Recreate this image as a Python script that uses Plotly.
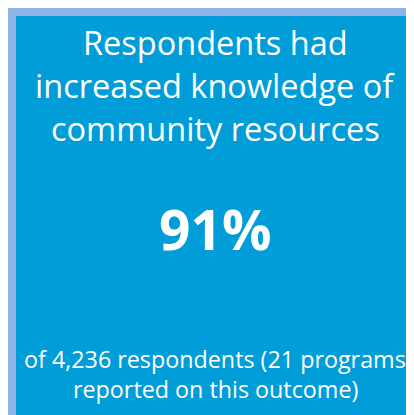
import plotly.graph_objects as go

title_lines = ["Respondents had", "increased knowledge of", "community resources"]
kpi_value = "91%"
footer_lines = ["of 4,236 respondents (21 programs", "reported on this outcome)"]

W, H = 414, 415
fig = go.Figure()
fig.update_layout(
    width=W, height=H,
    margin=dict(l=0, r=0, t=0, b=0),
    paper_bgcolor="#8EB4E3",
    plot_bgcolor="rgba(0,0,0,0)",
    xaxis=dict(visible=False, range=[0, W], fixedrange=True),
    yaxis=dict(visible=False, range=[H, 0], fixedrange=True),
    showlegend=False,
)
fig.add_shape(type="rect", xref="x", yref="y", x0=8, x1=W, y0=8, y1=H,
              fillcolor="#009DD9", line=dict(width=0), layer="below")

font = "Open Sans, sans-serif"
cx = 207
for i, t in enumerate(title_lines):
    fig.add_annotation(x=cx, y=34 + 43 * i, xref="x", yref="y", text=t, showarrow=False,
                       font=dict(family=font, size=32.5, color="white"), xanchor="center", yanchor="middle")
fig.add_annotation(x=cx, y=220, xref="x", yref="y", text="<b>" + kpi_value + "</b>", showarrow=False,
                   font=dict(family=font, size=55, color="white"), xanchor="center", yanchor="middle")
for i, t in enumerate(footer_lines):
    fig.add_annotation(x=cx, y=351 + 30 * i, xref="x", yref="y", text=t, showarrow=False,
                       font=dict(family=font, size=23.3, color="white"), xanchor="center", yanchor="middle")

fig.write_html("out.html", config={"displayModeBar": False})
